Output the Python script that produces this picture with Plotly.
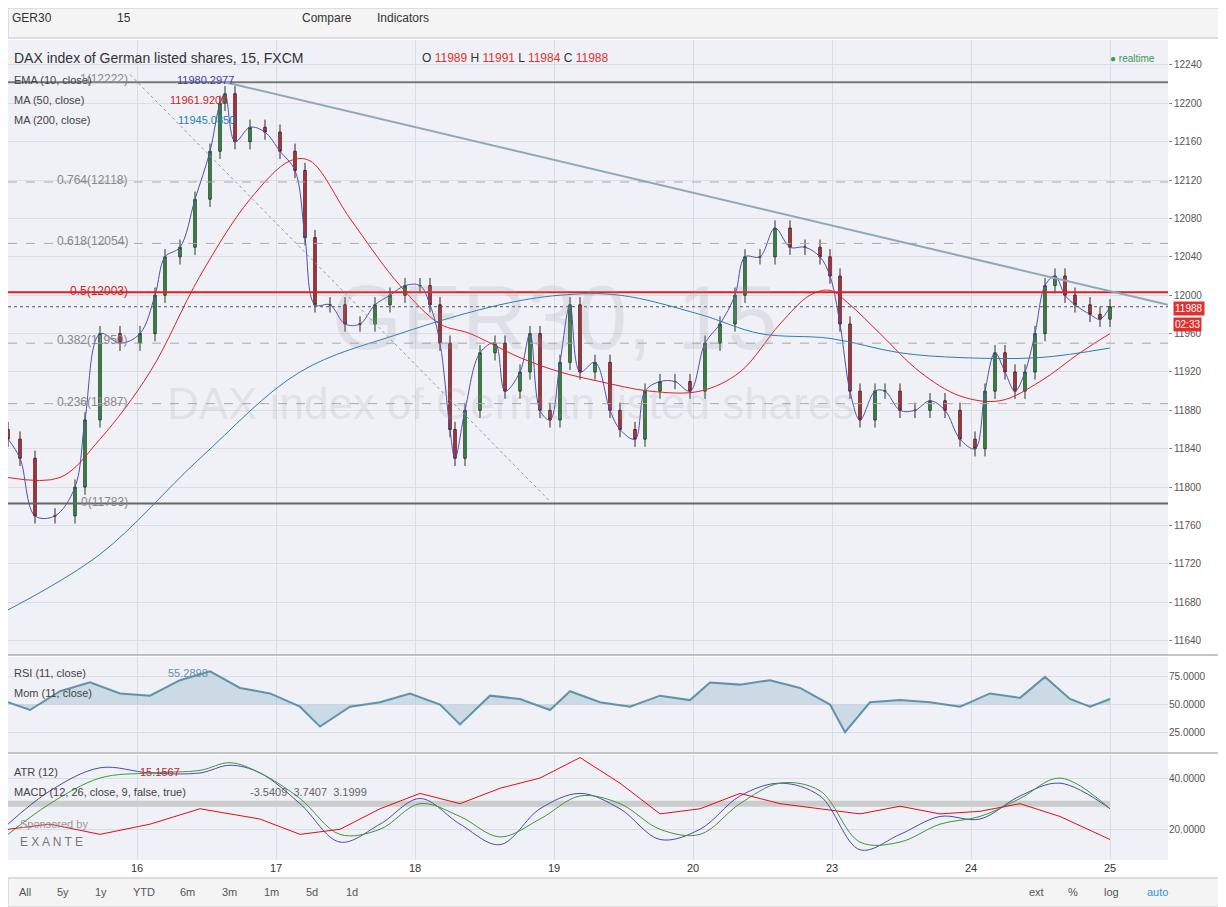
import plotly.graph_objects as go

# ---------------- data ----------------
px_x = [8,20,35,55,75,85,100,120,140,155,165,180,195,210,220,225,235,250,265,280,295,305,315,330,345,360,375,390,405,420,430,440,450,455,465,480,495,505,520,530,540,550,560,570,580,595,610,620,635,645,660,675,690,705,720,735,745,760,775,790,805,820,830,840,850,860,875,885,900,915,930,945,960,975,985,995,1005,1015,1025,1035,1045,1055,1065,1075,1090,1100,1110]
closes = [11850,11830,11770,11770,11800,11870,11960,11950,11960,12000,12040,12050,12100,12150,12200,12210,12160,12175,12170,12150,12130,12060,11990,11990,11970,11970,11990,12000,12010,12010,11990,11950,11860,11830,11880,11940,11950,11900,11920,11960,11880,11870,11930,11990,11920,11930,11880,11860,11850,11900,11910,11910,11900,11950,11970,12000,12040,12040,12070,12050,12050,12040,12020,11970,11900,11870,11900,11900,11880,11880,11890,11880,11850,11840,11900,11940,11920,11900,11920,11960,12010,12020,12000,11990,11980,11975,11988]
opens = [11860] + closes[:-1]
wick = 8

ma50_x = [8,60,100,150,200,250,290,310,350,400,440,470,520,560,600,650,700,740,780,810,830,850,880,920,960,1000,1040,1080,1110]
ma50 = [11810,11810,11850,11920,12020,12100,12140,12140,12080,12010,11970,11960,11935,11920,11910,11900,11900,11920,11970,12000,12005,11990,11960,11920,11895,11890,11910,11940,11960]
ma200_x = [8,100,200,300,400,500,560,620,700,760,830,900,960,1040,1110]
ma200 = [11672,11730,11830,11920,11960,11990,12000,12000,11980,11960,11955,11940,11935,11935,11945]

rsi_x = [8,30,60,90,120,150,180,210,240,270,300,320,350,380,410,440,460,490,520,550,570,600,630,660,690,710,740,770,800,830,845,870,900,930,960,990,1020,1045,1070,1090,1110]
rsi = [52,45,62,70,60,58,72,80,65,60,48,30,48,52,60,50,32,58,55,45,62,52,48,58,54,70,68,72,65,50,25,52,54,52,48,60,56,75,55,48,55]

macd_x = [8,50,100,150,200,230,260,300,340,380,420,460,500,540,580,620,660,700,740,780,820,860,900,940,980,1020,1060,1110]
macd = [22,35,44,42,42,45,42,30,15,22,32,22,14,28,34,28,16,20,33,38,33,12,18,25,24,33,38,28]
signal = [18,30,40,42,43,46,42,32,18,20,30,25,17,24,33,30,20,18,30,38,35,15,15,22,25,32,40,28]
atr = [20,22,18,22,28,26,24,18,20,28,34,30,36,40,48,38,26,28,34,30,28,26,29,26,27,30,25,16]

day_ticks = [0,1,2,3,4,5,6,7]
day_labels = ["16","17","18","19","20","23","24","25"]

W, H, OFF = 1218, 899, 8
def PX(x): return (x - OFF) / W
def PY(y): return 1 - (y - OFF) / H
def tod(px): return (px - 137) / 139.0

X = [tod(p) for p in px_x]
fig = go.Figure()
fig.add_trace(go.Candlestick(x=X, open=opens, close=closes,
    high=[max(o, c) + wick for o, c in zip(opens, closes)],
    low=[min(o, c) - wick for o, c in zip(opens, closes)],
    increasing=dict(fillcolor="#3f9a4e", line=dict(color="#1f3d22", width=1)),
    decreasing=dict(fillcolor="#d9363e", line=dict(color="#3a1e1e", width=1)),
    whiskerwidth=0, showlegend=False, xaxis="x", yaxis="y"))
fig.add_trace(go.Scatter(x=[tod(p) for p in ma50_x], y=ma50, mode="lines", line=dict(color="#e02020", width=1), line_shape="spline", showlegend=False))
fig.add_trace(go.Scatter(x=[tod(p) for p in ma200_x], y=ma200, mode="lines", line=dict(color="#2b7fb0", width=1), line_shape="spline", showlegend=False))
fig.add_trace(go.Scatter(x=X, y=closes, mode="lines", line=dict(color="#5050b0", width=1), line_shape="spline", showlegend=False))

RX = [tod(p) for p in rsi_x]
fig.add_trace(go.Scatter(x=RX, y=[50]*len(RX), mode="lines", line=dict(width=0), showlegend=False, xaxis="x2", yaxis="y2"))
fig.add_trace(go.Scatter(x=RX, y=rsi, mode="lines", fill="tonexty", fillcolor="rgba(120,170,190,0.3)",
    line=dict(color="#5f93aa", width=2), showlegend=False, xaxis="x2", yaxis="y2"))

MX = [tod(p) for p in macd_x]
fig.add_trace(go.Scatter(x=MX, y=[30]*len(MX), mode="lines", line=dict(color="#cccccc", width=6), showlegend=False, xaxis="x3", yaxis="y3"))
fig.add_trace(go.Scatter(x=MX, y=macd, mode="lines", line=dict(color="#4a4ab0", width=1), line_shape="spline", showlegend=False, xaxis="x3", yaxis="y3"))
fig.add_trace(go.Scatter(x=MX, y=signal, mode="lines", line=dict(color="#3a9a3a", width=1), line_shape="spline", showlegend=False, xaxis="x3", yaxis="y3"))
fig.add_trace(go.Scatter(x=MX, y=atr, mode="lines", line=dict(color="#e01010", width=1), showlegend=False, xaxis="x3", yaxis="y3"))

xr = [tod(8), tod(1168)]
dom = [0, PX(1168)]
common_x = dict(range=xr, tickvals=day_ticks, showgrid=True, gridcolor="#dcdce6", zeroline=False, showline=False, domain=dom)
fig.update_layout(
    width=W, height=H, margin=dict(l=0, r=0, t=0, b=0),
    paper_bgcolor="white", plot_bgcolor="#f0f0f7",
    font=dict(family="Liberation Sans, Arial", size=11, color="#555"),
    xaxis=dict(**common_x, anchor="y", showticklabels=False, rangeslider=dict(visible=False)),
    yaxis=dict(domain=[PY(655), PY(40)], range=[11625, 12266], side="right", tickvals=list(range(11640, 12241, 40)),
               tickformat="d", showgrid=True, gridcolor="#dcdce6", zeroline=False, tickfont=dict(size=10, color="#555"),
               ticks="outside", ticklen=3, tickcolor="#888"),
    xaxis2=dict(**common_x, anchor="y2", showticklabels=False),
    yaxis2=dict(domain=[PY(752), PY(657)], range=[7, 93], side="right", anchor="x2", tickvals=[25, 50, 75],
                ticktext=["25.0000", "50.0000", "75.0000"], showgrid=True, gridcolor="#dcdce6", zeroline=False, tickfont=dict(size=10)),
    xaxis3=dict(**common_x, anchor="y3", ticktext=day_labels, tickfont=dict(size=11, color="#333")),
    yaxis3=dict(domain=[PY(860), PY(755)], range=[8, 49], side="right", anchor="x3", tickvals=[20, 40],
                ticktext=["20.0000", "40.0000"], showgrid=True, gridcolor="#dcdce6", zeroline=False, tickfont=dict(size=10)),
)

x0, x1 = xr
shapes = []
for y, c, w, d in [(12222, "#777", 2, "solid"), (11783, "#666", 2, "solid"), (12003, "#e02020", 2, "solid"),
                   (12118, "#aaa", 1, "dash"), (12054, "#aaa", 1, "dash"), (11950, "#aaa", 1, "dash"), (11887, "#aaa", 1, "dash")]:
    shapes.append(dict(type="line", xref="x", yref="y", x0=x0, x1=x1, y0=y, y1=y, line=dict(color=c, width=w, dash=d)))
shapes.append(dict(type="line", xref="x", yref="y", x0=tod(225), x1=tod(1168), y0=12222, y1=11990, line=dict(color="#8fa8b8", width=2)))
shapes.append(dict(type="line", xref="x", yref="y", x0=tod(130), x1=tod(552), y0=12230, y1=11783, line=dict(color="#999", width=1, dash="dot")))
shapes.append(dict(type="line", xref="x", yref="y", x0=x0, x1=x1, y0=11988, y1=11988, line=dict(color="#555", width=1, dash="dot")))
shapes.append(dict(type="rect", xref="paper", yref="paper", x0=0, x1=1, y0=PY(38), y1=1, fillcolor="#f4f4f4", line=dict(color="#ddd")))
shapes.append(dict(type="rect", xref="paper", yref="paper", x0=0, x1=1, y0=0, y1=PY(878), fillcolor="#f4f4f4", line=dict(color="#ddd")))
for ytop in [655, 753]:
    shapes.append(dict(type="line", xref="paper", yref="paper", x0=0, x1=1, y0=PY(ytop), y1=PY(ytop), line=dict(color="#888", width=1)))
fig.update_layout(shapes=shapes)

ann = []
def T(x, y, text, size=11, color="#555", xa="left", **kw):
    ann.append(dict(xref="paper", yref="paper", x=PX(x), y=PY(y), text=text, showarrow=False,
                    xanchor=xa, yanchor="middle", font=dict(size=size, color=color), **kw))
T(330, 318, "GER30, 15", 90, "rgba(150,150,160,0.18)")
T(165, 403, "DAX index of German listed shares", 44, "rgba(150,150,160,0.18)")
T(12, 58, "DAX index of German listed shares, 15, FXCM", 14, "#333")
T(420, 58, "O <span style='color:#d33'>11989</span> H <span style='color:#d33'>11991</span> L <span style='color:#d33'>11984</span> C <span style='color:#d33'>11988</span>", 12, "#333")
T(12, 80, "EMA (10, close)", 11, "#444"); T(175, 80, "11980.2977", 11, "#4040a0")
T(12, 100, "MA (50, close)", 11, "#444"); T(168, 100, "11961.9200", 11, "#d02020")
T(12, 120, "MA (200, close)", 11, "#444"); T(176, 120, "11945.0850", 11, "#2b7fb0")
T(1108, 58, "<span style='color:#3a9a5a'>●</span> realtime", 10, "#3a9a5a")
for y, t, c in [(180, "0.764(12118)", "#888"), (241, "0.618(12054)", "#888"), (291, "0.5(12003)", "#d02020"),
                (340, "0.382(11950)", "#888"), (402, "0.236(11887)", "#888"), (502, "0(11783)", "#888"), (79, "1(12222)", "#888")]:
    T(130, y, t, 12, c, xa="right")
T(12, 673, "RSI (11, close)", 11, "#444"); T(166, 673, "55.2898", 11, "#5f93aa")
T(12, 693, "Mom (11, close)", 11, "#444")
T(12, 772, "ATR (12)", 11, "#444"); T(138, 772, "15.1567", 11, "#d02020")
T(12, 792, "MACD (12, 26, close, 9, false, true)", 11, "#444"); T(248, 792, "-3.5409  3.7407  3.1999", 11, "#666")
T(18, 824, "Sponsored by", 11, "#999"); T(18, 842, "E X A N T E", 12, "#777")
T(1173, 308, "11988", 10, "white", bgcolor="#e03030")
T(1173, 324, "02:33", 10, "white", bgcolor="#e03030")
T(10, 18, "GER30", 12, "#333"); T(115, 18, "15", 12, "#333")
for x, t in [(300, "Compare"), (375, "Indicators")]:
    T(x, 18, t, 12, "#333")
for x, t in [(17, "All"), (55, "5y"), (93, "1y"), (131, "YTD"), (178, "6m"), (220, "3m"), (262, "1m"), (304, "5d"), (344, "1d"),
             (1027, "ext"), (1066, "%"), (1102, "log")]:
    T(x, 892, t, 11, "#555")
T(1145, 892, "auto", 11, "#3a8ed0")
fig.update_layout(annotations=ann)
fig.write_html("out.html")
